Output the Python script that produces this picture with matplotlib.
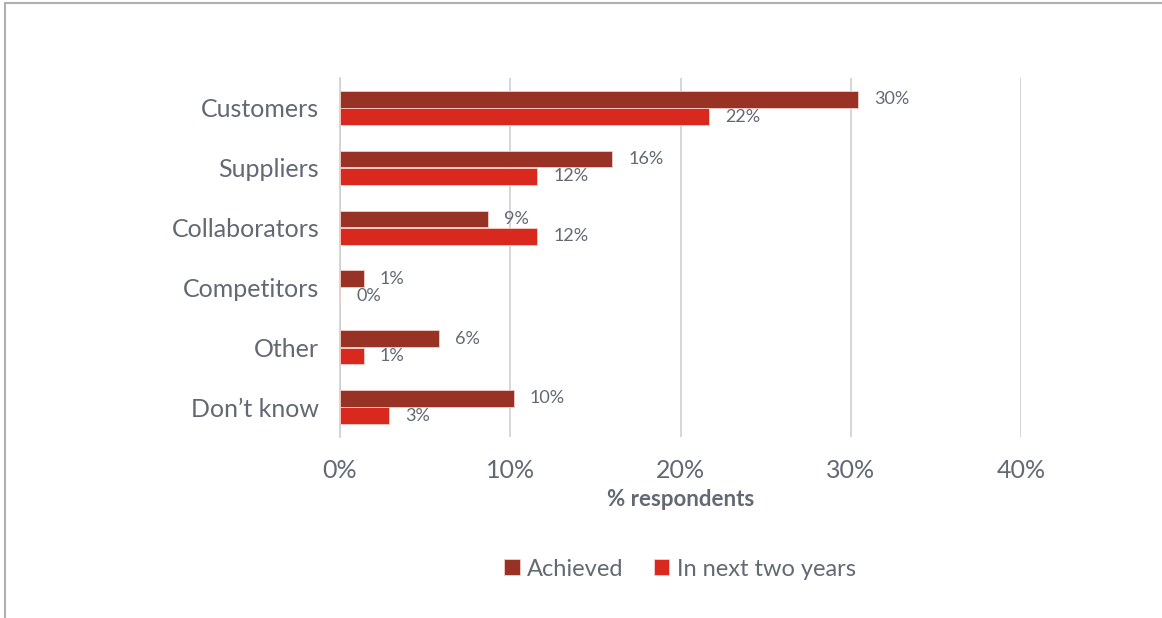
import numpy as np
import matplotlib.pyplot as plt
from matplotlib.lines import Line2D

# ---------------- data ----------------
categories = ['Customers', 'Suppliers', 'Collaborators', 'Competitors', 'Other', 'Don\u2019t know']
achieved = [30.4, 16.0, 8.7, 1.4, 5.8, 10.2]
next_two_years = [21.7, 11.6, 11.6, 0.0, 1.4, 2.9]
series_names = ['Achieved', 'In next two years']
xticks = [0, 10, 20, 30, 40]

# ---------------- style ----------------
plt.rcParams['font.family'] = ['Lato', 'DejaVu Sans']
dark_red = '#983224'
red = '#d9291e'
text_col = '#626973'
grid_col = '#d0d0d4'

fig = plt.figure(figsize=(11.62, 6.18), dpi=100)
ax = fig.add_axes([340 / 1162, 1 - 437 / 618, (1021 - 340) / 1162, (437 - 78) / 618])

y = np.arange(len(categories))
h = 0.28
off = 0.145
ax.barh(y - off, achieved, height=h, color=dark_red, edgecolor='#f0d0cc', linewidth=0.6,
        label=series_names[0], zorder=3)
ax.barh(y + off, next_two_years, height=h, color=red, edgecolor='#f5d0cc', linewidth=0.6,
        label=series_names[1], zorder=3)

# value labels
for yi, v in zip(y - off, achieved):
    ax.text(v + 0.95, yi, f'{v:.0f}%', va='center', ha='left', fontsize=13, color=text_col)
for yi, v in zip(y + off, next_two_years):
    ax.text(v + 0.95, yi, f'{v:.0f}%', va='center', ha='left', fontsize=13, color=text_col)

ax.set_xlim(0, 40)
ax.set_ylim(len(categories) - 0.5, -0.5)
ax.set_yticks(y)
ax.set_yticklabels(categories, fontsize=18, color=text_col)
ax.set_xticks(xticks)
ax.set_xticklabels([f'{t}%' for t in xticks], fontsize=18, color=text_col)
ax.tick_params(length=0)
ax.tick_params(axis='x', pad=16)
ax.tick_params(axis='y', pad=15)
ax.grid(axis='x', color=grid_col, linewidth=1.2, zorder=0)
for s in ['top', 'right', 'bottom']:
    ax.spines[s].set_visible(False)
ax.spines['left'].set_color(grid_col)
ax.spines['left'].set_linewidth(1.2)
ax.set_xlabel('% respondents', fontsize=16, fontweight='bold', color=text_col, labelpad=5)

leg = fig.legend(loc='center', bbox_to_anchor=(680 / 1162, 1 - 569 / 618), ncol=2,
                 frameon=False, fontsize=17, handlelength=0.65, handleheight=0.65,
                 handletextpad=0.3, columnspacing=1.3)
for t in leg.get_texts():
    t.set_color(text_col)

# outer frame (top and left edges)
fig.add_artist(Line2D([0.004, 1.0], [1 - 3 / 618, 1 - 3 / 618], transform=fig.transFigure,
                      color='#b0b0b0', linewidth=1.5))
fig.add_artist(Line2D([5 / 1162, 5 / 1162], [0, 1 - 3 / 618], transform=fig.transFigure,
                      color='#b0b0b0', linewidth=1.5))

fig.savefig('out.png', dpi=100)
